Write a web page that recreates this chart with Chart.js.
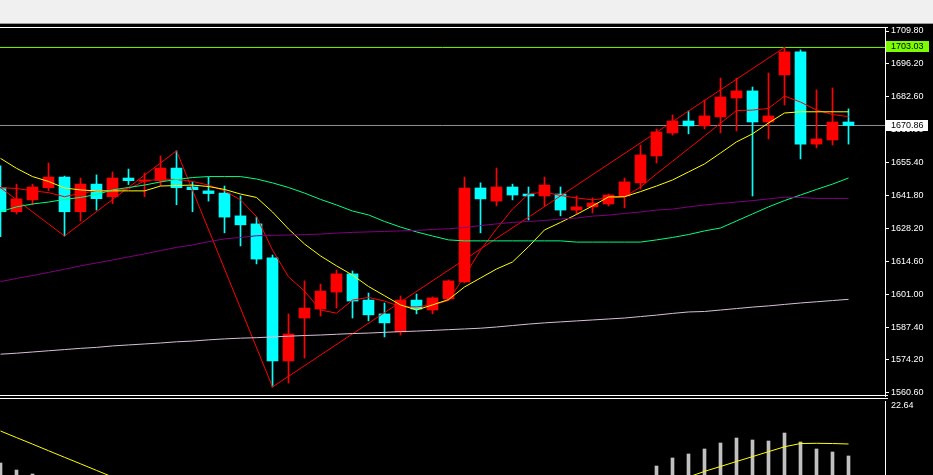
<!DOCTYPE html>
<html>
<head>
<meta charset="utf-8">
<title>XAUUSD,H4</title>
<script src="https://cdn.jsdelivr.net/npm/chart.js@4.4.1/dist/chart.umd.min.js"></script>
<style>
  html, body { margin: 0; padding: 0; background: #000; width: 933px; height: 475px; overflow: hidden; }
  #barra { position: absolute; left: 0; top: 0; width: 933px; height: 23px; background: #f0f0f0; border-bottom: 1px solid #9a9a9a; }
  #precio { position: absolute; left: 0; top: 24px; }
  #macd { position: absolute; left: 0; top: 397px; }
</style>
</head>
<body>
<div id="barra"></div>
<canvas id="precio" width="933" height="374"></canvas>
<canvas id="macd" width="933" height="123"></canvas>
<script>
'use strict'

//velas (una por posicion, de izquierda a derecha)
const opens  = [1645.2, 1635.3, 1640.2, 1645.2, 1649.6, 1635.3, 1646.7, 1641.5, 1649.2, 1647.9,
                1648.1, 1653.3, 1645.5, 1643.9, 1643.0, 1633.6, 1630.3, 1616.3, 1573.8, 1591.5,
                1595.2, 1602.2, 1609.7, 1598.9, 1593.2, 1585.8, 1598.9, 1594.8, 1599.4, 1606.4,
                1645.1, 1639.7, 1645.5, 1642.6, 1641.8, 1642.6, 1636.0, 1637.3, 1638.5, 1641.8,
                1647.2, 1658.3, 1667.8, 1672.7, 1670.7, 1674.4, 1682.2, 1685.1, 1672.3, 1691.7,
                1701.2, 1663.2, 1664.9, 1672.3];
const highs  = [1654.2, 1646.7, 1646.7, 1655.4, 1650.0, 1649.2, 1650.5, 1651.7, 1652.9, 1651.3,
                1658.3, 1660.4, 1647.6, 1649.6, 1645.9, 1641.8, 1633.1, 1617.5, 1593.2, 1606.8,
                1605.5, 1611.3, 1610.9, 1601.8, 1597.7, 1600.6, 1601.4, 1600.2, 1607.2, 1649.6,
                1647.2, 1653.3, 1646.7, 1645.5, 1649.6, 1645.5, 1641.8, 1641.0, 1642.6, 1649.2,
                1662.8, 1669.4, 1675.2, 1676.8, 1681.4, 1690.4, 1690.4, 1686.7, 1692.5, 1703.03,
                1702.0, 1685.5, 1686.3, 1677.7];
const lows   = [1625.0, 1634.4, 1638.1, 1644.0, 1625.3, 1631.5, 1636.0, 1638.6, 1646.5, 1641.5,
                1646.0, 1638.2, 1635.3, 1639.7, 1626.6, 1621.2, 1613.8, 1563.1, 1564.7, 1575.0,
                1592.3, 1595.6, 1591.5, 1590.3, 1583.7, 1584.5, 1593.2, 1593.2, 1598.9, 1606.0,
                1626.6, 1637.7, 1640.2, 1631.9, 1637.7, 1633.6, 1634.4, 1634.8, 1637.7, 1636.9,
                1644.7, 1655.4, 1666.9, 1667.4, 1669.4, 1667.8, 1668.6, 1641.8, 1665.3, 1679.3,
                1657.1, 1661.6, 1662.8, 1663.2];
const closes = [1635.3, 1640.6, 1645.5, 1649.6, 1635.3, 1646.7, 1640.7, 1649.2, 1648.1, 1648.4,
                1653.3, 1645.2, 1644.4, 1642.8, 1633.1, 1629.9, 1615.8, 1573.8, 1584.9, 1595.6,
                1602.6, 1609.7, 1598.5, 1592.8, 1589.5, 1598.9, 1595.2, 1599.8, 1606.8, 1645.1,
                1640.6, 1645.5, 1642.2, 1641.8, 1646.3, 1636.0, 1637.3, 1638.9, 1642.2, 1647.6,
                1658.7, 1668.2, 1672.7, 1670.7, 1674.8, 1682.6, 1685.1, 1672.3, 1674.8, 1701.2,
                1663.2, 1665.3, 1672.3, 1670.86];

//medias moviles
const maRojo     = [1645.2, 1644.9, 1643.9, 1643.2, 1641.5, 1642.9, 1643.9, 1644.0, 1644.7, 1648.0,
                    1648.7, 1648.6, 1647.8, 1646.3, 1643.9, 1640.2, 1633.3, 1619.5, 1608.5, 1602.6,
                    1594.8, 1593.5, 1598.9, 1600.0, 1598.5, 1596.2, 1596.1, 1596.9, 1598.7, 1608.8,
                    1619.5, 1628.2, 1636.4, 1642.6, 1643.4, 1642.0, 1641.0, 1640.2, 1641.0, 1641.4,
                    1645.5, 1650.9, 1656.1, 1661.3, 1666.5, 1671.8, 1677.0, 1677.2, 1677.9, 1683.0,
                    1680.5, 1677.2, 1675.4, 1674.5];
const maAmarillo = [1657.3, 1653.2, 1649.8, 1647.8, 1645.1, 1644.3, 1643.9, 1643.9, 1643.9, 1643.9,
                    1645.9, 1646.1, 1646.3, 1645.7, 1644.5, 1642.6, 1641.2, 1635.2, 1628.2, 1622.0,
                    1617.1, 1613.0, 1609.2, 1604.5, 1600.7, 1596.9, 1594.8, 1596.9, 1599.1, 1604.3,
                    1608.0, 1611.7, 1614.6, 1620.9, 1627.8, 1630.9, 1634.2, 1637.7, 1641.4, 1641.5,
                    1643.6, 1645.9, 1648.4, 1651.7, 1655.0, 1659.5, 1664.1, 1667.4, 1671.9, 1676.0,
                    1676.5, 1676.5, 1676.5, 1676.5];
const maVerde    = [1635.3, 1637.3, 1638.5, 1639.3, 1640.4, 1641.2, 1642.4, 1644.3, 1645.3, 1646.3,
                    1647.6, 1648.6, 1649.4, 1649.8, 1649.8, 1649.8, 1648.8, 1647.2, 1645.3, 1643.0,
                    1640.4, 1638.1, 1635.6, 1634.0, 1631.3, 1629.0, 1627.0, 1625.3, 1623.7, 1623.3,
                    1623.3, 1623.3, 1623.3, 1623.3, 1623.3, 1623.3, 1622.8, 1622.8, 1622.8, 1622.8,
                    1622.8, 1623.7, 1624.7, 1625.9, 1627.4, 1628.6, 1631.5, 1634.4, 1637.3, 1639.9,
                    1642.2, 1644.5, 1646.7, 1649.2];
const maMorada   = [1606.5, 1607.8, 1609.0, 1610.3, 1611.6, 1613.0, 1614.2, 1615.4, 1616.7, 1617.9,
                    1619.3, 1620.6, 1621.6, 1623.0, 1624.1, 1624.7, 1625.4, 1625.6, 1625.7, 1625.9,
                    1626.1, 1626.5, 1626.8, 1627.0, 1627.2, 1627.4, 1627.6, 1628.0, 1628.3, 1628.8,
                    1629.6, 1630.3, 1630.9, 1631.3, 1631.7, 1632.3, 1632.7, 1633.5, 1633.9, 1634.6,
                    1635.2, 1636.0, 1636.4, 1637.3, 1638.1, 1638.7, 1639.3, 1639.9, 1640.6, 1641.3,
                    1641.2, 1640.8, 1640.8, 1640.8];
const maLila     = [1576.6, 1577.0, 1577.5, 1578.0, 1578.5, 1579.0, 1579.4, 1580.0, 1580.4, 1580.8,
                    1581.2, 1581.7, 1582.0, 1582.5, 1582.9, 1583.2, 1583.4, 1583.7, 1584.0, 1584.3,
                    1584.5, 1584.8, 1585.1, 1585.3, 1585.6, 1585.9, 1586.1, 1586.4, 1586.7, 1587.0,
                    1587.3, 1587.8, 1588.4, 1589.0, 1589.5, 1589.9, 1590.3, 1590.7, 1591.1, 1591.5,
                    1592.1, 1592.7, 1593.4, 1594.0, 1594.2, 1594.8, 1595.4, 1596.0, 1596.5, 1597.1,
                    1597.7, 1598.2, 1598.7, 1599.2];

//zigzag (posicion de vela y precio del vertice)
const zigzagIdx   = [-1, 4, 11, 17, 49];
const zigzagPrice = [1650.2, 1625.3, 1660.4, 1563.1, 1703.03];

//niveles y escala de precios
const levelPrice   = 1703.03;
const currentPrice = 1670.86;
const priceTicks   = [1709.80, 1696.20, 1682.60, 1669.00, 1655.40, 1641.80, 1628.20,
                      1614.60, 1601.00, 1587.40, 1574.20, 1560.60];

//ventana inferior (histograma y señal), null = fuera de la vista
const macdHist = [10.84, 9.51, 8.75, null, null, null, null, null, null, null,
                  null, null, null, null, null, null, null, null, null, null,
                  null, null, null, null, null, null, null, null, null, null,
                  null, null, null, null, null, null, null, null, null, null,
                  null, 10.27, 11.8, 12.56, 13.51, 14.65, 15.6, 15.22, 15.03, 16.55,
                  14.84, 13.51, 12.94, 12.18];
const macdSignal = [16.93, 15.68, 14.44, 13.18, 11.93, 10.69, 9.44, 8.18, null, null,
                    null, null, null, null, null, null, null, null, null, null,
                    null, null, null, null, null, null, null, null, null, null,
                    null, null, null, null, null, null, null, null, null, null,
                    null, null, null, 8.18, 9.25, 10.18, 11.13, 12.06, 13.0, 13.93,
                    14.55, 14.59, 14.55, 14.46];
const macdMax = 22.64;

const fuente = "'Liberation Sans', Arial, sans-serif";
const RED = '#ff0000';
const CYAN = '#00ffff';

//rango horizontal: 16 px por vela, 885 px de area
const xMin = -0.03125;
const xMax = xMin + 885 / 16;

function serie( valores )
{
  return valores.map( ( v, i ) => ( { x: i, y: v } ) );
}

function ejeDerecho( scale )
{
  scale.width = 48;
  scale.paddingTop = 0;
  scale.paddingBottom = 0;
}

//colores de las velas
let colores = closes.map( ( c, i ) => c >= opens[ i ] ? RED : CYAN );

let mechas = lows.map( ( l, i ) => ( { x: i, y: [ l, highs[ i ] ] } ) );
let cuerpos = opens.map( ( o, i ) => ( { x: i, y: [ o, closes[ i ] ] } ) );

//plugin para el marco y las cajas de precio
const marcoPrecio =
{
  id: 'marcoPrecio',
  afterDraw( chart )
  {
    const { ctx, chartArea, scales } = chart;
    ctx.save();
    ctx.strokeStyle = '#ffffff';
    ctx.lineWidth = 1;
    ctx.beginPath();
    ctx.moveTo( 0, chartArea.top + 0.5 );
    ctx.lineTo( chartArea.right + 3, chartArea.top + 0.5 );
    ctx.moveTo( 0, chartArea.bottom - 0.5 );
    ctx.lineTo( chartArea.right + 3, chartArea.bottom - 0.5 );
    ctx.stroke();

    ctx.font = '9px ' + fuente;
    ctx.textBaseline = 'middle';
    ctx.textAlign = 'left';

    //caja verde del nivel
    let yl = Math.round( scales.y.getPixelForValue( levelPrice ) ) - 1;
    ctx.fillStyle = '#7cfc00';
    ctx.fillRect( chartArea.right + 1, yl - 5, 43, 11 );
    ctx.fillStyle = '#000000';
    ctx.fillText( levelPrice.toFixed( 2 ), chartArea.right + 6, yl + 1 );

    //caja blanca del precio actual
    let yc = Math.round( scales.y.getPixelForValue( currentPrice ) );
    ctx.fillStyle = '#ffffff';
    ctx.fillRect( chartArea.right + 1, yc - 5, 42, 11 );
    ctx.fillStyle = '#000000';
    ctx.fillText( currentPrice.toFixed( 2 ), chartArea.right + 6, yc + 1 );
    ctx.restore();
  }
};

const marcoMacd =
{
  id: 'marcoMacd',
  afterDraw( chart )
  {
    const { ctx, chartArea } = chart;
    ctx.save();
    ctx.strokeStyle = '#ffffff';
    ctx.lineWidth = 1;
    ctx.beginPath();
    ctx.moveTo( 0, 1.5 );
    ctx.lineTo( chartArea.right + 3, 1.5 );
    ctx.stroke();
    ctx.restore();
  }
};

function linea( datos, color, orden )
{
  return {
    type: 'line',
    data: datos,
    borderColor: color,
    borderWidth: 1,
    pointRadius: 0,
    tension: 0,
    fill: false,
    spanGaps: false,
    order: orden
  };
}

//lineas horizontales de nivel
function horizontal( valor )
{
  return [ { x: xMin, y: valor }, { x: xMax, y: valor } ];
}

//grafica de precios
let precioChart = new Chart( document.getElementById( 'precio' ),
{
  type: 'bar',
  data:
  {
    datasets:
    [
      linea( serie( maLila ), '#d8bfd8', 0 ),
      linea( serie( maMorada ), '#800080', 0 ),
      linea( serie( maVerde ), '#00ff7f', 0 ),
      linea( serie( maAmarillo ), '#ffff00', 0 ),
      linea( serie( maRojo ), RED, 0 ),
      linea( zigzagIdx.map( ( k, i ) => ( { x: k, y: zigzagPrice[ i ] } ) ), RED, 0 ),
      linea( horizontal( levelPrice ), '#7cfc00', 5 ),
      linea( horizontal( currentPrice ), '#909090', 5 ),
      {
        data: mechas,
        backgroundColor: colores,
        borderWidth: 0,
        barThickness: 1,
        grouped: false,
        order: 2
      },
      {
        data: cuerpos,
        backgroundColor: colores,
        borderWidth: 0,
        barThickness: 11,
        minBarLength: 1,
        grouped: false,
        order: 1
      }
    ]
  },
  options:
  {
    responsive: false,
    animation: false,
    devicePixelRatio: 1,
    layout: { padding: { top: 3, bottom: 2, left: 0, right: 0 } },
    plugins: { legend: { display: false }, tooltip: { enabled: false } },
    scales:
    {
      x:
      {
        type: 'linear',
        display: false,
        offset: false,
        min: xMin,
        max: xMax,
        grid: { offset: false }
      },
      y:
      {
        position: 'right',
        min: 1559.36,
        max: 1711.45,
        afterFit: ejeDerecho,
        afterBuildTicks: scale => { scale.ticks = priceTicks.map( v => ( { value: v } ) ); },
        border: { display: true, color: '#ffffff', width: 1 },
        grid: { drawOnChartArea: false, drawTicks: true, tickLength: 4, color: '#ffffff' },
        ticks:
        {
          autoSkip: false,
          padding: 2,
          color: '#ffffff',
          font: { family: fuente, size: 9 },
          callback: v => Number( v ).toFixed( 2 )
        }
      }
    }
  },
  plugins: [ marcoPrecio ]
});

//grafica inferior
let macdChart = new Chart( document.getElementById( 'macd' ),
{
  type: 'bar',
  data:
  {
    datasets:
    [
      linea( serie( macdSignal ), '#ffff00', 0 ),
      {
        data: serie( macdHist ),
        backgroundColor: '#c0c0c0',
        borderWidth: 0,
        barThickness: 3,
        order: 1
      }
    ]
  },
  options:
  {
    responsive: false,
    animation: false,
    devicePixelRatio: 1,
    layout: { padding: { top: 4, bottom: 0, left: 0, right: 0 } },
    plugins: { legend: { display: false }, tooltip: { enabled: false } },
    scales:
    {
      x:
      {
        type: 'linear',
        display: false,
        offset: false,
        min: xMin,
        max: xMax,
        grid: { offset: false }
      },
      y:
      {
        position: 'right',
        min: 0,
        max: macdMax,
        afterFit: ejeDerecho,
        afterBuildTicks: scale => { scale.ticks = [ { value: macdMax } ]; },
        border: { display: true, color: '#ffffff', width: 1 },
        grid: { drawOnChartArea: false, drawTicks: false },
        ticks:
        {
          autoSkip: false,
          padding: 6,
          labelOffset: 5,
          color: '#ffffff',
          font: { family: fuente, size: 9 },
          callback: v => Number( v ).toFixed( 2 )
        }
      }
    }
  },
  plugins: [ marcoMacd ]
});
</script>
</body>
</html>
